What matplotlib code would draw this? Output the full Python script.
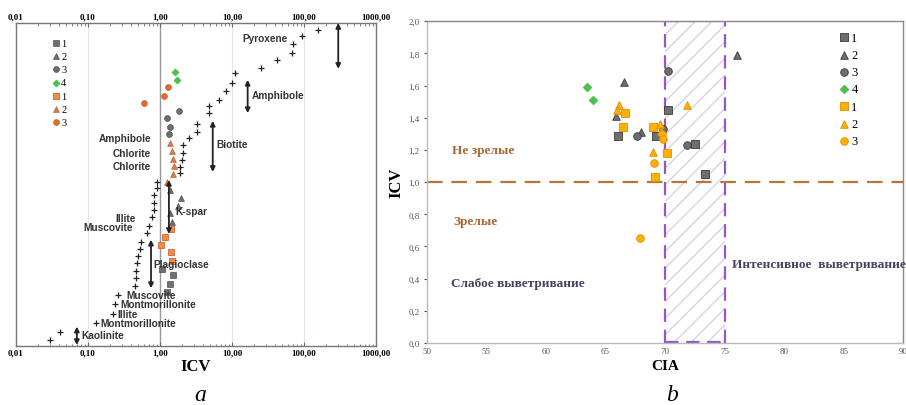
import matplotlib
matplotlib.use("Agg")
import matplotlib.pyplot as plt
from matplotlib.patches import Rectangle
from matplotlib.ticker import FixedLocator, FixedFormatter, LogLocator, NullFormatter

# ---------------- panel a: ICV of minerals vs samples ----------------
# minerals (+), ICV value and position from bottom (0..100)
mineral_icv = [158, 94.7, 70.3, 67.5, 41.8, 25.0, 11.1, 10.1, 8.26, 6.66, 4.84, 4.74,
               3.30, 3.30, 2.55, 2.11, 2.07, 2.00, 1.90, 1.90, 0.90, 0.90, 0.83, 0.83,
               0.83, 0.77, 0.71, 0.65, 0.54, 0.53, 0.50, 0.48, 0.47, 0.46, 0.45, 0.26,
               0.24, 0.22, 0.128, 0.041, 0.030]
mineral_pos = [97.9, 95.9, 93.4, 90.7, 88.6, 86.2, 84.5, 81.3, 78.9, 76.2, 74.4, 72.0,
               68.8, 66.3, 64.5, 62.2, 59.8, 57.7, 55.5, 53.5, 50.9, 48.8, 46.7, 44.3,
               42.2, 39.8, 37.1, 34.9, 32.3, 30.0, 28.0, 25.7, 23.3, 21.0, 18.7, 15.9,
               13.0, 10.0, 7.1, 4.2, 2.0]

# samples: gray group 1-4, orange group 1-3
a_gray1_icv = [1.05, 1.53, 1.39, 1.27]
a_gray1_pos = [23.9, 21.9, 19.2, 16.8]
a_gray2_icv = [1.38, 1.96, 1.76, 1.38, 1.48]
a_gray2_pos = [48.4, 45.8, 43.4, 41.2, 38.5]
a_gray3_icv = [1.82, 1.25, 1.38, 1.32]
a_gray3_pos = [72.8, 70.5, 67.9, 65.6]
a_green4_icv = [1.60, 1.71]
a_green4_pos = [84.9, 82.4]
a_or1_icv = [1.41, 1.17, 1.03, 1.41, 1.49]
a_or1_pos = [36.2, 33.9, 31.4, 29.0, 26.3]
a_or2_icv = [1.38, 1.45, 1.53, 1.56, 1.53, 1.24]
a_or2_pos = [62.8, 60.5, 58.0, 55.6, 53.3, 50.8]
a_or3_icv = [1.30, 1.13, 0.60]
a_or3_pos = [80.1, 77.5, 75.2]

# range arrows: name, ICV, pos top, pos bottom
range_names = ["Pyroxene", "Amphibole", "Biotite", "K-spar", "Plagioclase", "Kaolinite"]
range_icv = [299, 16.5, 5.4, 1.33, 0.75, 0.070]
range_top = [100, 82.4, 69.7, 51.4, 32.9, 6.0]
range_bot = [85.8, 72.1, 53.9, 34.7, 17.9, 0.3]

# mineral labels: text, ICV, pos, alignment
lab_text = ["Pyroxene", "Amphibole", "Biotite", "Amphibole", "Chlorite", "Chlorite",
            "Illite", "Muscovite", "K-spar", "Plagioclase", "Muscovite",
            "Montmorillonite", "Illite", "Montmorillonite", "Kaolinite"]
lab_icv = [60, 19.0, 6.0, 0.75, 0.75, 0.75, 0.46, 0.42, 1.62, 0.80, 0.337,
           0.278, 0.253, 0.147, 0.080]
lab_pos = [95.4, 77.7, 62.5, 64.3, 59.8, 55.8, 39.7, 36.9, 41.7, 25.4, 15.9,
           13.0, 10.0, 7.1, 3.4]
lab_ha = ["right", "left", "left", "right", "right", "right", "right", "right",
          "left", "left", "left", "left", "left", "left", "left"]

a_ticks = [0.01, 0.1, 1, 10, 100, 1000]
a_ticklabels = ["0,01", "0,10", "1,00", "10,00", "100,00", "1000,00"]

# ---------------- panel b: ICV vs CIA ----------------
b_gray1_cia = [66.06, 69.24, 70.28, 72.52, 73.38]
b_gray1_icv = [1.29, 1.29, 1.45, 1.24, 1.05]
b_gray2_cia = [66.56, 65.86, 67.99, 76.02]
b_gray2_icv = [1.62, 1.41, 1.31, 1.79]
b_gray3_cia = [70.28, 67.65, 69.86, 71.82]
b_gray3_icv = [1.69, 1.29, 1.33, 1.23]
b_green4_cia = [63.45, 63.98]
b_green4_icv = [1.59, 1.51]
b_or1_cia = [66.67, 66.50, 69.02, 70.14, 69.19]
b_or1_icv = [1.43, 1.34, 1.34, 1.18, 1.03]
b_or2_cia = [66.14, 66.0, 69.58, 69.7, 71.82, 69.0]
b_or2_icv = [1.48, 1.45, 1.36, 1.32, 1.48, 1.19]
b_or3_cia = [69.77, 69.8, 69.10, 67.90]
b_or3_icv = [1.30, 1.27, 1.12, 0.65]

b_xticks = [50, 55, 60, 65, 70, 75, 80, 85, 90]
b_yticks = [0.0, 0.2, 0.4, 0.6, 0.8, 1.0, 1.2, 1.4, 1.6, 1.8, 2.0]

icv_limit = 1.0
cia_zone = (70, 75)

serif = "Liberation Serif"
gray_c, gray_e = "#6e6e6e", "#3a3a3a"
green_c = "#4cc24c"

fig = plt.figure(figsize=(9.06, 4.06), dpi=100)

# ---------- panel a ----------
ax1 = fig.add_axes([16 / 906, 59 / 406, 360 / 906, 323 / 406])
ax1.set_xscale("log")
ax1.set_xlim(0.01, 1000)
ax1.set_ylim(0, 100)
for t in a_ticks[1:-1]:
    ax1.axvline(t, color="#999999" if t == 1 else "#dfe6ee", lw=1.0 if t == 1 else 0.8, zorder=0)

ax1.scatter(mineral_icv, mineral_pos, marker="+", c="#222222", s=22, linewidths=0.9, zorder=3)

ms = 18
ax1.scatter(a_gray1_icv, a_gray1_pos, marker="s", c=gray_c, edgecolors=gray_e, linewidths=0.4, s=ms, label="1", zorder=4)
ax1.scatter(a_gray2_icv, a_gray2_pos, marker="^", c=gray_c, edgecolors=gray_e, linewidths=0.4, s=ms, label="2", zorder=4)
ax1.scatter(a_gray3_icv, a_gray3_pos, marker="o", c=gray_c, edgecolors=gray_e, linewidths=0.4, s=ms, label="3", zorder=4)
ax1.scatter(a_green4_icv, a_green4_pos, marker="D", c=green_c, edgecolors=green_c, s=10, label="4", zorder=4)
ax1.scatter(a_or1_icv, a_or1_pos, marker="s", c="#f28a4a", edgecolors="#c0561e", linewidths=0.5, s=ms, label="1", zorder=4)
ax1.scatter(a_or2_icv, a_or2_pos, marker="^", c="#d9774c", edgecolors="#b85a30", linewidths=0.4, s=ms, label="2", zorder=4)
ax1.scatter(a_or3_icv, a_or3_pos, marker="o", c="#e5692a", edgecolors="#c4521a", linewidths=0.4, s=ms, label="3", zorder=4)

for x, y0, y1 in zip(range_icv, range_top, range_bot):
    ax1.annotate("", xy=(x, y1), xytext=(x, y0),
                 arrowprops=dict(arrowstyle="<|-|>", color="#222222", lw=1.3,
                                 mutation_scale=7, shrinkA=0, shrinkB=0), zorder=5)

for t, x, y, ha in zip(lab_text, lab_icv, lab_pos, lab_ha):
    ax1.text(x, y, t, ha=ha, va="center", fontsize=7.3, fontweight="bold",
             color="#333333", family="Liberation Sans", zorder=6)

ax1.xaxis.set_major_locator(FixedLocator(a_ticks))
ax1.xaxis.set_major_formatter(FixedFormatter(a_ticklabels))
ax1.xaxis.set_minor_locator(LogLocator(base=10, subs=range(2, 10), numticks=20))
ax1.xaxis.set_minor_formatter(NullFormatter())
ax1.tick_params(axis="x", which="both", direction="in", top=True, labeltop=True,
                labelsize=6.5, pad=2, color="#666666")
ax1.tick_params(axis="x", which="major", length=3)
ax1.tick_params(axis="x", which="minor", length=1.8)
for lb in ax1.get_xticklabels():
    lb.set_fontfamily(serif)
    lb.set_fontweight("bold")
ax1.set_yticks([])
for s in ax1.spines.values():
    s.set_color("#777777")
    s.set_linewidth(1.0)
ax1.set_xlabel("ICV", fontsize=12, fontweight="bold", family=serif, labelpad=1)

leg1 = ax1.legend(loc="upper left", bbox_to_anchor=(0.075, 0.975), frameon=False,
                  prop={"family": serif, "size": 7.5}, handletextpad=0.05,
                  labelspacing=0.38, handlelength=1.0, borderpad=0.2)

# ---------- panel b ----------
ax2 = fig.add_axes([426.7 / 906, 62 / 406, 476.6 / 906, 321.7 / 406])
ax2.set_xlim(50, 90)
ax2.set_ylim(0, 2.0)

ax2.add_patch(Rectangle((cia_zone[0], 0), cia_zone[1] - cia_zone[0], 2.0,
                        facecolor="none", edgecolor="#d6d1e6", hatch="//", lw=0, zorder=1))
for xv in cia_zone:
    ax2.plot([xv, xv], [0, 2.0], color="#9656c8", lw=1.6, dashes=(6, 3.5), zorder=2)
for yv in (0.005, 2.0):
    ax2.plot(list(cia_zone), [yv, yv], color="#9656c8", lw=1.6, dashes=(6, 3.5), zorder=2)
ax2.axhline(icv_limit, color="#b8753a", lw=1.6, dashes=(7, 4), zorder=2)

ms2 = 30
gold, gold_e = "#ffb000", "#e08e00"
ax2.scatter(b_gray1_cia, b_gray1_icv, marker="s", c=gray_c, edgecolors=gray_e, linewidths=0.6, s=ms2, label="1", zorder=4)
ax2.scatter(b_gray2_cia, b_gray2_icv, marker="^", c=gray_c, edgecolors=gray_e, linewidths=0.6, s=ms2, label="2", zorder=4)
ax2.scatter(b_gray3_cia, b_gray3_icv, marker="o", c=gray_c, edgecolors=gray_e, linewidths=0.6, s=ms2, label="3", zorder=4)
ax2.scatter(b_green4_cia, b_green4_icv, marker="D", c=green_c, edgecolors=green_c, s=16, label="4", zorder=4)
ax2.scatter(b_or1_cia, b_or1_icv, marker="s", c=gold, edgecolors=gold_e, linewidths=0.6, s=ms2, label="1", zorder=4)
ax2.scatter(b_or2_cia, b_or2_icv, marker="^", c=gold, edgecolors=gold_e, linewidths=0.6, s=ms2, label="2", zorder=4)
ax2.scatter(b_or3_cia, b_or3_icv, marker="o", c=gold, edgecolors=gold_e, linewidths=0.6, s=ms2, label="3", zorder=4)

ax2.text(52.1, 1.20, "Не зрелые", fontsize=9.5, fontweight="bold", color="#a8672f", family=serif, va="center")
ax2.text(52.2, 0.757, "Зрелые", fontsize=9.5, fontweight="bold", color="#a8672f", family=serif, va="center")
ax2.text(52.0, 0.371, "Слабое выветривание", fontsize=9.5, fontweight="bold", color="#4a3f63", family=serif, va="center")
ax2.text(75.6, 0.49, "Интенсивное  выветривание", fontsize=9.5, fontweight="bold", color="#4a3f63", family=serif, va="center")

ax2.set_xticks(b_xticks)
ax2.set_xticklabels([str(v) for v in b_xticks])
ax2.set_yticks(b_yticks)
ax2.set_yticklabels([f"{v:.1f}".replace(".", ",") for v in b_yticks])
ax2.tick_params(axis="both", labelsize=6.5, colors="#555555", length=2, pad=3)
ax2.tick_params(axis="x", length=0)
for lb in ax2.get_xticklabels() + ax2.get_yticklabels():
    lb.set_fontfamily(serif)
for s in ax2.spines.values():
    s.set_color("#888888")
    s.set_linewidth(1.0)
ax2.spines["left"].set_color("#bbbbbb")
ax2.spines["bottom"].set_color("#bbbbbb")
ax2.set_xlabel("CIA", fontsize=11, fontweight="bold", family=serif, labelpad=3)
ax2.set_ylabel("ICV", fontsize=12, fontweight="bold", family=serif, labelpad=3)

leg2 = ax2.legend(loc="upper left", bbox_to_anchor=(0.845, 0.995), frameon=False,
                  prop={"family": serif, "size": 9}, handletextpad=0.05,
                  labelspacing=0.42, handlelength=1.0, borderpad=0.2)

fig.text(200 / 906, 1 - 396 / 406, "a", fontsize=17, style="italic", family=serif, ha="center", va="center")
fig.text(672 / 906, 1 - 396 / 406, "b", fontsize=17, style="italic", family=serif, ha="center", va="center")

fig.savefig("out.png", dpi=100)
